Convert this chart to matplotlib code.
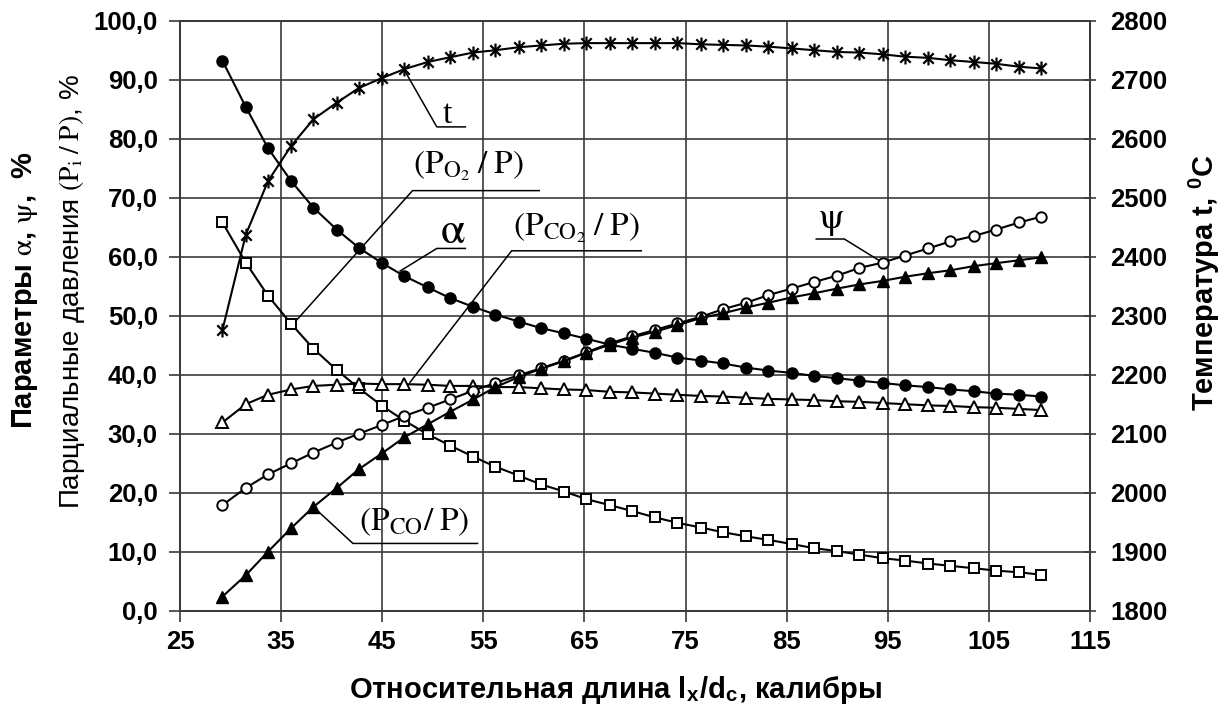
import matplotlib
matplotlib.use("Agg")
import matplotlib.pyplot as plt
from matplotlib.path import Path

plt.rcParams["mathtext.fontset"] = "stix"
plt.rcParams["font.family"] = ["Liberation Sans", "DejaVu Sans"]

# ---------------- data ----------------
rel_length = [29.2, 31.5, 33.7, 36.0, 38.2, 40.5, 42.7, 45.0, 47.2, 49.5, 51.7, 54.0,
              56.2, 58.5, 60.7, 63.0, 65.2, 67.5, 69.7, 72.0, 74.2, 76.5, 78.7, 81.0,
              83.2, 85.5, 87.7, 90.0, 92.2, 94.5, 96.7, 99.0, 101.2, 103.5, 105.7, 108.0, 110.2]

alpha = [93.2, 85.4, 78.4, 72.8, 68.3, 64.6, 61.5, 58.9, 56.7, 54.8, 53.0, 51.5, 50.2,
         49.0, 47.9, 47.0, 46.1, 45.1, 44.4, 43.7, 42.9, 42.4, 41.9, 41.2, 40.7, 40.3,
         39.8, 39.4, 39.0, 38.6, 38.2, 37.9, 37.5, 37.2, 36.8, 36.6, 36.3]

psi = [17.9, 20.8, 23.1, 25.0, 26.8, 28.5, 30.0, 31.5, 33.0, 34.4, 35.8, 37.3, 38.6,
       39.9, 41.1, 42.4, 43.8, 45.3, 46.5, 47.6, 48.7, 49.8, 51.1, 52.2, 53.5, 54.6,
       55.7, 56.8, 58.1, 59.0, 60.2, 61.4, 62.6, 63.5, 64.6, 65.8, 66.8]

p_co = [2.4, 6.0, 10.0, 14.0, 17.6, 20.8, 24.0, 26.7, 29.4, 31.6, 33.7, 35.8, 37.9,
        39.6, 41.0, 42.3, 43.7, 45.1, 46.3, 47.3, 48.4, 49.6, 50.4, 51.4, 52.2, 53.1,
        53.8, 54.6, 55.3, 55.9, 56.6, 57.2, 57.7, 58.4, 58.9, 59.4, 59.9]

p_co2 = [31.9, 35.0, 36.6, 37.5, 38.1, 38.3, 38.5, 38.4, 38.4, 38.3, 38.1, 38.1, 37.9,
         37.9, 37.7, 37.5, 37.4, 37.1, 37.0, 36.8, 36.6, 36.4, 36.3, 36.1, 35.9, 35.8,
         35.7, 35.5, 35.4, 35.2, 35.0, 34.8, 34.7, 34.5, 34.4, 34.2, 34.0]

p_o2 = [65.8, 59.0, 53.4, 48.6, 44.4, 40.8, 37.7, 34.7, 32.2, 29.9, 28.0, 26.1, 24.4,
        22.9, 21.4, 20.2, 18.9, 17.9, 16.9, 15.8, 14.9, 14.1, 13.3, 12.6, 12.0, 11.3,
        10.6, 10.1, 9.5, 8.9, 8.5, 8.0, 7.6, 7.2, 6.8, 6.5, 6.1]

temperature = [2276, 2437, 2528, 2588, 2633, 2661, 2686, 2703, 2718, 2730, 2738, 2746,
               2750, 2755, 2758, 2761, 2762, 2762, 2762, 2762, 2762, 2760, 2759, 2758,
               2756, 2753, 2750, 2747, 2746, 2743, 2739, 2737, 2733, 2730, 2727, 2722, 2719]

x_ticks = [25, 35, 45, 55, 65, 75, 85, 95, 105, 115]
y_ticks = [0, 10, 20, 30, 40, 50, 60, 70, 80, 90, 100]
y_tick_labels = ["0,0", "10,0", "20,0", "30,0", "40,0", "50,0", "60,0", "70,0",
                 "80,0", "90,0", "100,0"]
t_ticks = [1800, 1900, 2000, 2100, 2200, 2300, 2400, 2500, 2600, 2700, 2800]

# ---------------- figure ----------------
W, H = 1230, 717
fig = plt.figure(figsize=(W / 100, H / 100), dpi=100)
ax = fig.add_axes([180 / W, 1 - 610.7 / H, 910 / W, 590 / H])
ax2 = ax.twinx()

grid_c = "#3a3a3a"
tick_font = dict(family=["Liberation Sans", "DejaVu Sans"], weight="bold", size=18.5)

ax.set_xlim(25, 115)
ax.set_ylim(0, 100)
ax2.set_ylim(1800, 2800)

ax.set_xticks(x_ticks)
ax.set_xticklabels([str(v) for v in x_ticks], fontdict=tick_font)
ax.set_yticks(y_ticks)
ax.set_yticklabels(y_tick_labels, fontdict=tick_font)
ax2.set_yticks(t_ticks)
ax2.set_yticklabels([str(v) for v in t_ticks], fontdict=tick_font)

ax.grid(True, color=grid_c, lw=1.2)
ax.tick_params(axis="both", length=8, width=1.2, color=grid_c, pad=8)
ax.tick_params(axis="x", pad=6)
ax2.tick_params(axis="y", length=9, width=1.2, color=grid_c, pad=10, direction="inout")
for a in (ax, ax2):
    for s in a.spines.values():
        s.set_color(grid_c)
        s.set_linewidth(1.4)

line_kw = dict(color="black", lw=1.5, zorder=3)
ax.plot(rel_length, p_o2, marker="s", ms=7, mfc="white", mec="black", mew=1.4, **line_kw)
ax.plot(rel_length, p_co2, marker="^", ms=8.5, mfc="white", mec="black", mew=1.4, **line_kw)
ax.plot(rel_length, psi, marker="o", ms=7.5, mfc="white", mec="black", mew=1.4, **line_kw)
ax.plot(rel_length, p_co, marker="^", ms=8.5, mfc="black", mec="black", **line_kw)
ax.plot(rel_length, alpha, marker="o", ms=8, mfc="black", mec="black", **line_kw)

star = Path([(0, -1), (0, 1), (-0.75, -0.75), (0.75, 0.75), (-0.75, 0.75), (0.75, -0.75)],
            [Path.MOVETO, Path.LINETO, Path.MOVETO, Path.LINETO, Path.MOVETO, Path.LINETO])
ax2.plot(rel_length, temperature, marker=star, ms=10, mew=1.6, mec="black",
         color="black", lw=1.5, zorder=3)

# ---------------- annotations ----------------
ann_font = dict(family=["Liberation Serif", "DejaVu Serif"], size=24, color="black")
lead_kw = dict(color="black", lw=1.1, zorder=4, solid_capstyle="butt")


def leader(pts):
    ax.plot([p[0] for p in pts], [p[1] for p in pts], **lead_kw)


# t
leader([(47.2, 91.6), (50.4, 82.0), (53.3, 82.0)])
ax.text(51.0, 82.6, "t", ha="left", va="baseline", **ann_font)
# P_O2
leader([(36.4, 49.0), (48.0, 71.2), (60.6, 71.2)])
ax.text(48.0, 74.1, r"$\mathrm{(P_{O_2}\;/\;P)}$", ha="left", va="baseline", **ann_font)
# alpha
leader([(46.7, 57.5), (50.4, 61.4), (53.3, 61.4)])
ax.text(50.7, 62.4, r"$\mathrm{\alpha}$", ha="left", va="baseline",
        **{**ann_font, "size": 32})
# P_CO2
leader([(47.7, 38.6), (57.8, 61.0), (70.7, 61.0)])
ax.text(57.9, 63.7, r"$\mathrm{(P_{CO_2}\;/\;P)}$", ha="left", va="baseline", **ann_font)
# psi
leader([(87.85, 63.0), (90.7, 63.0), (94.2, 59.3)])
ax.text(88.1, 64.8, r"$\mathrm{\psi}$", ha="left", va="baseline", **{**ann_font, "size": 26})
# P_CO
leader([(38.5, 17.1), (42.1, 11.4), (54.5, 11.4)])
ax.text(42.7, 13.7, r"$\mathrm{(P_{CO}/\;P)}$", ha="left", va="baseline", **ann_font)

# ---------------- axis titles ----------------
lab_bold = dict(family=["Liberation Sans", "DejaVu Sans"], weight="bold", size=21)
lab_reg = dict(family=["Liberation Sans", "DejaVu Sans"], weight="normal", size=20)

fig.text(25 / W, 1 - 290 / H, r"Параметры $\mathrm{\alpha}$, $\mathrm{\psi}$,  %", rotation=90,
         ha="center", va="center", **lab_bold)
fig.text(72 / W, 1 - 292 / H, r"Парциальные давления $\mathrm{(P_i\;/\;P)}$, %",
         rotation=90, ha="center", va="center", **lab_reg)
fig.text(1205 / W, 1 - 282 / H, r"Температура t, $^{\mathregular{0}}$C", rotation=90,
         ha="center", va="center", **lab_bold)
fig.text(615 / W, 1 - 690 / H,
         r"Относительная длина l$_\mathregular{x}$/d$_\mathregular{c}$, калибры",
         ha="center", va="center", **lab_bold)

fig.savefig("out.png", dpi=100)
